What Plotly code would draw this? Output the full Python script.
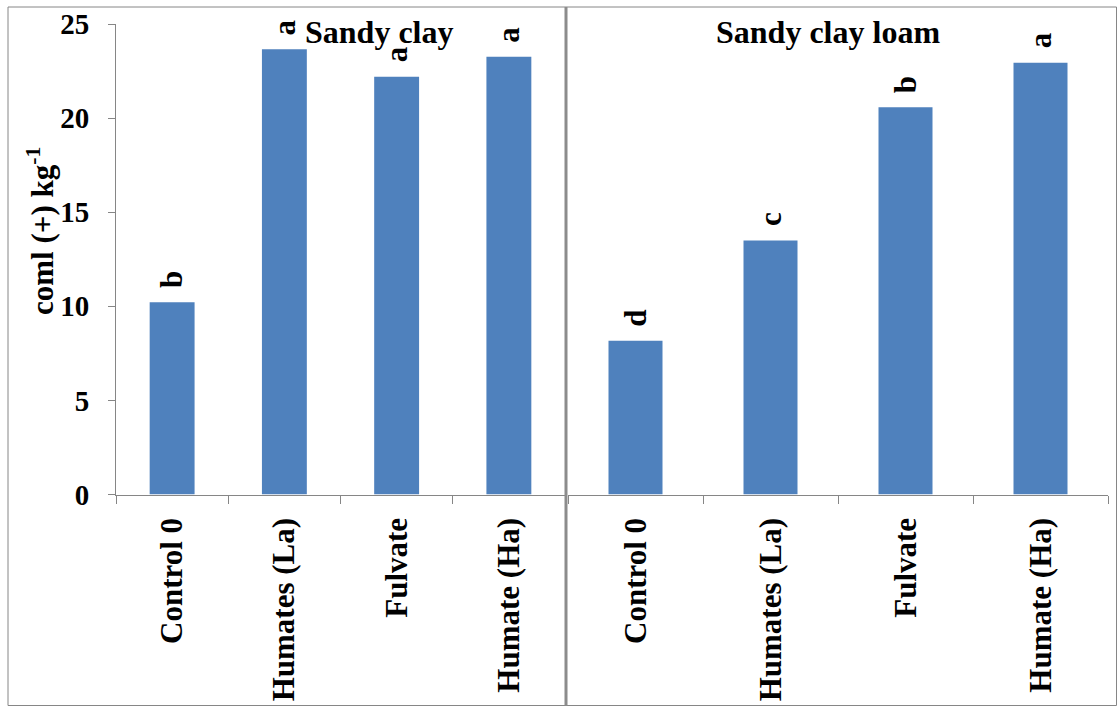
import plotly.graph_objects as go

# Treatments (shared by both soils)
categories = ["Control 0", "Humates (La)", "Fulvate", "Humate (Ha)"]

# Sandy clay
sandy_clay = [10.21, 23.66, 22.2, 23.26]
sandy_clay_letters = ["b", "a", "a", "a"]

# Sandy clay loam
sandy_clay_loam = [8.17, 13.49, 20.57, 22.94]
sandy_clay_loam_letters = ["d", "c", "b", "a"]

y_ticks = [0, 5, 10, 15, 20, 25]

W, H = 1118, 707
BAR = "#4F81BD"
GREY = "#868686"
FONT = "Liberation Serif"


def px(x):
    return x / W


def py(y):
    return 1 - y / H


fig = go.Figure()

fig.add_trace(go.Bar(x=categories, y=sandy_clay, marker=dict(color=BAR, line=dict(width=0)),
                     xaxis="x", yaxis="y", showlegend=False, hoverinfo="x+y"))
fig.add_trace(go.Bar(x=categories, y=sandy_clay_loam, marker=dict(color=BAR, line=dict(width=0)),
                     xaxis="x2", yaxis="y2", showlegend=False, hoverinfo="x+y"))

y_top, y_bottom = 24, 494.5
ydom = [py(y_bottom), py(y_top)]

common_x = dict(
    type="category",
    tickson="boundaries",
    ticks="outside",
    ticklen=8,
    tickcolor=GREY,
    showline=True,
    linecolor=GREY,
    linewidth=1,
    tickangle=-90,
    tickfont=dict(family=FONT, size=31, color="black", weight="bold"),
    ticklabelstandoff=10,
    showgrid=False,
    zeroline=False,
    fixedrange=True,
    automargin=False,
)

fig.update_layout(
    width=W,
    height=H,
    margin=dict(l=0, r=0, t=0, b=0),
    paper_bgcolor="white",
    plot_bgcolor="white",
    bargap=0.6,
    xaxis=dict(domain=[px(116), px(565)], anchor="y", **common_x),
    xaxis2=dict(domain=[px(568), px(1108)], anchor="y2", **common_x),
    yaxis=dict(
        domain=ydom,
        anchor="x",
        range=[0, 25],
        tickvals=y_ticks,
        ticktext=[str(v) for v in y_ticks],
        ticks="outside",
        ticklen=7,
        tickcolor=GREY,
        showline=True,
        linecolor=GREY,
        linewidth=1,
        showgrid=False,
        zeroline=False,
        tickfont=dict(family=FONT, size=29, color="black", weight="bold"),
        ticklabelstandoff=13,
        fixedrange=True,
        automargin=False,
    ),
    yaxis2=dict(
        domain=ydom,
        anchor="x2",
        range=[0, 25],
        showticklabels=False,
        ticks="",
        showline=False,
        showgrid=False,
        zeroline=False,
        fixedrange=True,
        automargin=False,
    ),
)

annotations = []

# significance letters above each bar
for xa, ya, vals, letters in [("x", "y", sandy_clay, sandy_clay_letters),
                              ("x2", "y2", sandy_clay_loam, sandy_clay_loam_letters)]:
    for c, v, t in zip(categories, vals, letters):
        annotations.append(dict(
            x=c, y=v, xref=xa, yref=ya, text=t, showarrow=False,
            textangle=-90, xanchor="center", yanchor="bottom", yshift=12,
            font=dict(family=FONT, size=31, color="black", weight="bold"),
        ))

# panel titles
annotations.append(dict(x=px(379), y=py(32), xref="paper", yref="paper", text="Sandy clay",
                        showarrow=False, xanchor="center", yanchor="middle",
                        font=dict(family=FONT, size=32, color="black", weight="bold")))
annotations.append(dict(x=px(828), y=py(32), xref="paper", yref="paper", text="Sandy clay loam",
                        showarrow=False, xanchor="center", yanchor="middle",
                        font=dict(family=FONT, size=32, color="black", weight="bold")))

# y-axis title
annotations.append(dict(x=px(40), y=py(231), xref="paper", yref="paper",
                        text="coml (+) kg<sup>-1</sup>", showarrow=False, textangle=-90,
                        xanchor="center", yanchor="middle",
                        font=dict(family=FONT, size=31, color="black", weight="bold")))

fig.update_layout(annotations=annotations)

# chart frames and the divider between the two panels
fig.update_layout(shapes=[
    dict(type="rect", xref="paper", yref="paper", x0=px(8), x1=px(1116.5), y0=py(705.5), y1=py(7),
         line=dict(color=GREY, width=1), fillcolor="rgba(0,0,0,0)", layer="above"),
    dict(type="line", xref="paper", yref="paper", x0=px(566), x1=px(566), y0=py(705.5), y1=py(7),
         line=dict(color="#8c8c8c", width=3), layer="above"),
])

fig.write_html("out.html")
